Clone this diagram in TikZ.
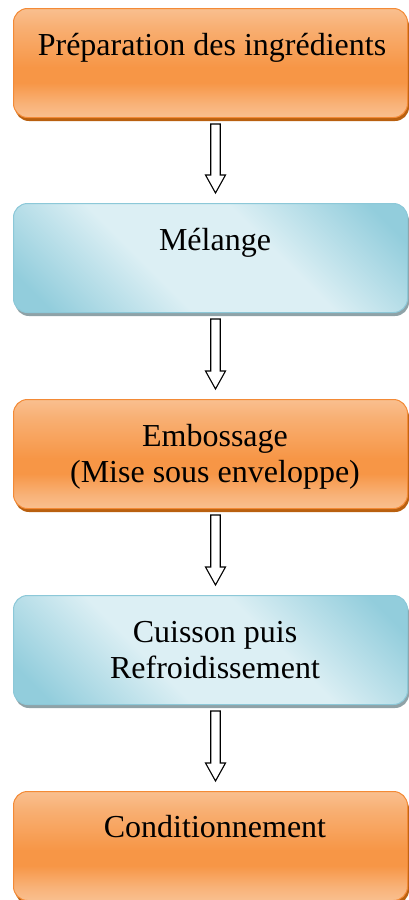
\documentclass[tikz,border=0pt]{standalone}
\usepackage{fontspec}
\setmainfont{Liberation Serif}
\usetikzlibrary{calc,shadows}

\definecolor{orLight}{HTML}{F9BF8F}
\definecolor{orDark}{HTML}{F79646}
\definecolor{orEdge}{HTML}{F38A36}
\definecolor{orShadow}{HTML}{B9600F}
\definecolor{blLight}{HTML}{DCEFF4}
\definecolor{blDark}{HTML}{92CDDC}
\definecolor{blEdge}{HTML}{8CC8D8}
\definecolor{blShadow}{HTML}{8FA2A7}

% orange band: light at top and bottom, darker a little below the middle
\pgfdeclareverticalshading{orangeband}{100bp}{%
  color(0bp)=(orLight); color(25bp)=(orLight); color(31bp)=(orLight!70!orDark);
  color(41bp)=(orDark); color(48bp)=(orDark); color(66bp)=(orLight!60!orDark);
  color(75bp)=(orLight); color(100bp)=(orLight)}
% blue diagonal: dark corners top right / bottom left, light band between
\pgfdeclareverticalshading{bluediag}{100bp}{%
  color(0bp)=(blDark); color(20bp)=(blDark); color(40bp)=(blLight);
  color(60bp)=(blLight); color(80bp)=(blDark); color(100bp)=(blDark)}

\tikzset{
  stepbox/.style={rectangle, rounded corners=14bp, minimum width=394bp,
    minimum height=109bp, inner sep=0pt, anchor=north west, line width=1bp},
  orangebox/.style={stepbox, draw=orEdge, shading=orangeband,
    drop shadow={shadow xshift=1.5bp, shadow yshift=-3.5bp, fill=orShadow, opacity=1}},
  bluebox/.style={stepbox, draw=blEdge, shading=bluediag, shading angle=-45,
    drop shadow={shadow xshift=1.5bp, shadow yshift=-3.5bp, fill=blShadow, opacity=1}},
  % base of a multi-line label is the baseline of its last line
  steptext/.style={anchor=base, align=center, inner sep=0pt,
    font=\fontsize{32bp}{36bp}\selectfont},
  hollow arrow/.style={to path={
    let \p1=(\tikztostart), \p2=(\tikztotarget) in
    (\x1-4.75bp,\y1) -- (\x1-4.75bp,\y2+18bp) -- (\x1-10bp,\y2+18bp)
    -- (\x1,\y2) -- (\x1+10bp,\y2+18bp) -- (\x1+4.75bp,\y2+18bp)
    -- (\x1+4.75bp,\y1) -- cycle}},
  arrowline/.style={draw=black, fill=white, line width=1.1bp, line join=miter}
}

\begin{document}
\begin{tikzpicture}[x=1bp, y=-1bp]
  \useasboundingbox (0,0) rectangle (408,900);

  % process steps
  \node[orangebox] (s1) at (13,8) {};
  \node[bluebox]   (s2) at (13,203) {};
  \node[orangebox] (s3) at (13,399) {};
  \node[bluebox]   (s4) at (13,595) {};
  \node[orangebox] (s5) at (13,791) {};

  % step labels
  \node[steptext] (t1) at ([xshift=1.5bp,yshift=-47bp]s1.north) {Préparation des ingrédients};
  \node[steptext] (t2) at ([xshift=4.5bp,yshift=-47bp]s2.north) {Mélange};
  \node[steptext] (t3) at ([xshift=4.5bp,yshift=-83bp]s3.north) {Embossage\\(Mise sous enveloppe)};
  \node[steptext] (t4) at ([xshift=4.5bp,yshift=-83bp]s4.north) {Cuisson puis\\Refroidissement};
  \node[steptext] (t5) at ([xshift=4.5bp,yshift=-46bp]s5.north) {Conditionnement};

  % hollow block arrows between steps
  \draw[arrowline] ([xshift=5bp,yshift=-6bp]s1.south) to[hollow arrow] ([xshift=5bp,yshift=10bp]s2.north);
  \draw[arrowline] ([xshift=5bp,yshift=-6bp]s2.south) to[hollow arrow] ([xshift=5bp,yshift=10bp]s3.north);
  \draw[arrowline] ([xshift=5bp,yshift=-6bp]s3.south) to[hollow arrow] ([xshift=5bp,yshift=10bp]s4.north);
  \draw[arrowline] ([xshift=5bp,yshift=-6bp]s4.south) to[hollow arrow] ([xshift=5bp,yshift=10bp]s5.north);
\end{tikzpicture}
\end{document}
